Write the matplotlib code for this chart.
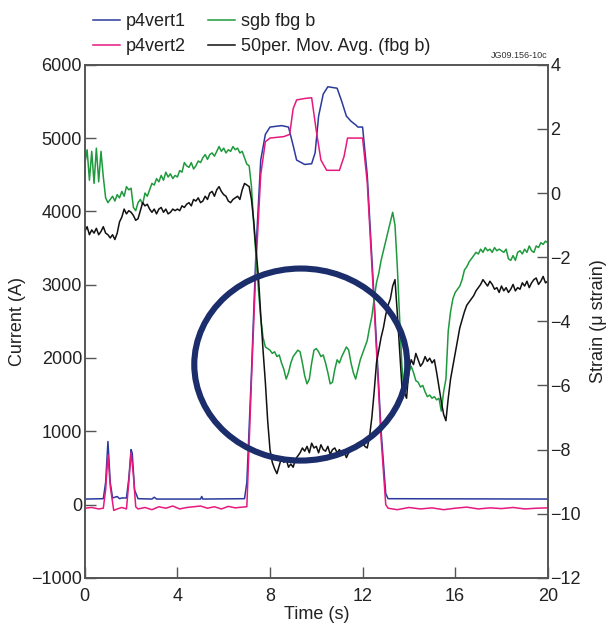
import numpy as np
import matplotlib.pyplot as plt
from matplotlib.patches import Ellipse

plt.rcParams['font.family'] = ['Liberation Sans', 'DejaVu Sans']

# p4vert1 current (A)
t_p1 = [0, 0.8, 0.9, 1.0, 1.1, 1.2, 1.4, 1.5, 1.6, 1.8, 1.9, 2.0, 2.05, 2.15, 2.3,
        2.9, 3.0, 3.1, 5.0, 5.05, 5.1, 6.9, 7.0, 7.2, 7.4, 7.6, 7.8, 8.0, 8.5, 8.8,
        9.0, 9.15, 9.5, 9.8, 9.95, 10.1, 10.3, 10.5, 10.9, 11.1, 11.3, 11.5,
        11.7, 11.8, 12.0, 12.2, 12.5, 12.8, 13.0, 13.1, 20]
i_p1 = [75, 80, 300, 860, 300, 90, 110, 80, 90, 90, 350, 750, 700, 200, 80,
        75, 100, 75, 75, 110, 75, 80, 300, 1800, 3500, 4700, 5050, 5150, 5170, 5150,
        4900, 4700, 4640, 4650, 4800, 5300, 5600, 5700, 5680, 5500, 5300, 5230,
        5180, 5150, 5150, 4500, 2800, 1000, 150, 80, 75]

# p4vert2 current (A)
t_p2 = [0, 0.3, 0.6, 0.8, 0.9, 1.0, 1.1, 1.25, 1.4, 1.6, 1.8, 1.9, 2.0, 2.1, 2.2,
        2.3, 2.6, 2.9, 3.2, 3.5, 3.8, 4.1, 4.4, 4.7, 5.0, 5.3, 5.6, 5.9, 6.2, 6.5,
        6.8, 7.0, 7.2, 7.4, 7.6, 7.8, 8.0, 8.6, 8.85, 9.0, 9.15, 9.5, 9.8, 10.0,
        10.2, 10.45, 11.0, 11.2, 11.35, 12.0, 12.2, 12.5, 12.8, 13.0, 13.1, 13.5,
        14.0, 14.5, 15.0, 15.5, 16.0, 16.5, 17.0, 17.5, 18.0, 18.5, 19.0, 19.5, 20]
i_p2 = [-50, -40, -60, -50, 200, 680, 250, -80, -60, -40, -60, 300, 710, 400, -30,
        -60, -40, -70, -30, -50, -20, -60, -40, -30, -20, -50, -30, -60, -25, -45,
        -35, -30, 1700, 3300, 4500, 4950, 5000, 5020, 5050, 5400, 5520, 5540, 5550, 5100,
        4700, 4560, 4560, 4750, 5000, 5000, 4400, 2700, 900, 0, -50, -70,
        -40, -60, -45, -70, -50, -35, -60, -45, -55, -40, -60, -50, -45]

# sgb fbg b strain, sampled every 0.1 s from 0 to 20 s
strain_fbg = [
    0.9, 1.35, 0.4, 1.3, 0.3, 1.4, 0.35, 1.3, 0.5, -0.15,
    -0.3, -0.2, -0.1, -0.25, -0.05, -0.15, 0.05, -0.1, 0.2, 0.1,
    0.15, -0.45, -0.55, -0.3, -0.2, -0.35, 0.0, -0.1, 0.1, 0.3,
    0.25, 0.45, 0.35, 0.55, 0.4, 0.65, 0.5, 0.6, 0.45, 0.55,
    0.5, 0.7, 0.65, 0.95, 0.85, 0.8, 0.95, 0.75, 0.85, 1.0,
    0.95, 1.1, 1.2, 1.05, 1.2, 1.25, 1.15, 1.3, 1.45, 1.3,
    1.4, 1.25, 1.35, 1.3, 1.45, 1.35, 1.4, 1.25, 1.3, 1.1,
    0.9, 0.85, 0.2, -1.0, -2.0, -3.0, -3.9, -4.5, -4.8, -4.85,
    -4.9, -5.0, -4.95, -5.1, -5.05, -5.3, -5.5, -5.8, -5.6, -5.3,
    -5.1, -5.0, -4.9, -4.95, -5.3, -5.7, -5.95, -5.8, -5.3, -4.9,
    -4.85, -4.95, -5.1, -5.05, -5.3, -5.6, -5.95, -5.9, -5.5, -5.2,
    -5.3, -5.1, -4.95, -4.8, -4.9, -5.3, -5.6, -5.8, -5.5, -5.2,
    -5.0, -4.8, -4.6, -4.2, -3.85, -3.3, -2.8, -2.5, -2.1, -1.8,
    -1.5, -1.2, -0.9, -0.6, -1.0, -2.3, -3.9, -5.4, -6.25, -6.0,
    -5.6, -5.4, -5.6, -5.85, -5.9, -6.05, -6.0, -6.2, -6.35, -6.3,
    -6.4, -6.35, -6.45, -6.4, -6.8, -6.2, -5.8, -4.3, -3.7, -3.3,
    -3.1, -3.0, -2.9, -2.7, -2.4, -2.3, -2.15, -2.05, -1.95, -1.85,
    -1.9, -1.75, -1.85, -1.7, -1.8, -1.75, -1.85, -1.7, -1.8, -1.75,
    -1.8, -1.85, -1.75, -2.05, -2.1, -1.95, -2.1, -1.85, -1.8, -1.9,
    -1.75, -1.85, -1.65, -1.8, -1.85, -1.65, -1.7, -1.55, -1.6, -1.5, -1.55]

# 50 period moving average of fbg b, every 0.1 s
strain_avg = [
    -1.2, -1.05, -1.3, -1.15, -1.25, -1.1, -1.3, -1.2, -1.05, -1.25,
    -1.3, -1.4, -1.3, -1.45, -1.25, -0.9, -0.75, -0.5, -0.65, -0.55,
    -0.6, -0.7, -0.85, -0.8, -0.55, -0.3, -0.4, -0.35, -0.5, -0.6,
    -0.5, -0.65, -0.5, -0.45, -0.6, -0.5, -0.65, -0.6, -0.5, -0.55,
    -0.5, -0.55, -0.4, -0.45, -0.35, -0.3, -0.4, -0.2, -0.25, -0.15,
    -0.3, -0.25, -0.1, -0.2, 0.0, 0.05, -0.1, 0.1, 0.2, 0.05,
    -0.05, -0.1, -0.25, -0.3, -0.2, -0.15, -0.1, -0.2, 0.1, 0.3,
    0.25, 0.2, -0.2, -0.9, -1.8, -2.6, -3.8, -4.9, -5.9, -7.1,
    -8.0, -8.4, -8.6, -8.75, -8.5, -8.25, -8.4, -8.3, -8.55, -8.45,
    -8.55, -8.3, -8.2, -8.1, -7.95, -8.05, -7.9, -8.1, -7.8, -7.95,
    -7.9, -8.1, -7.85, -8.0, -8.05, -7.9, -8.15, -8.0, -7.95, -8.1,
    -8.0, -8.15, -8.05, -8.25, -8.1, -8.0, -7.9, -7.95, -7.8, -7.85,
    -7.8, -7.9, -7.95, -7.6, -7.0, -6.2, -5.3, -4.9, -4.5, -4.2,
    -3.8, -3.5, -3.3, -2.9, -2.7, -3.75, -4.9, -6.05, -6.2, -6.4,
    -5.5, -5.2, -5.35, -5.0, -5.2, -5.4, -5.3, -5.1, -5.25, -5.15,
    -5.3, -5.2, -5.6, -6.05, -6.5, -6.9, -7.1, -6.4, -5.8, -5.4,
    -5.0, -4.6, -4.2, -3.95, -3.7, -3.5, -3.4, -3.3, -3.2, -3.05,
    -2.95, -2.85, -2.7, -2.8, -2.9, -2.75, -2.85, -3.0, -2.95, -3.1,
    -2.9, -3.05, -2.95, -3.1, -3.0, -2.85, -3.05, -2.95, -3.0, -2.8,
    -2.9, -2.75, -2.95, -2.8, -2.7, -2.65, -2.85, -2.75, -2.6, -2.8, -2.75]

t_fbg = np.arange(len(strain_fbg)) * 0.1

fig = plt.figure(figsize=(6.1, 6.35), dpi=100)
ax = fig.add_axes([0.139, 0.090, 0.759, 0.808])
ax2 = ax.twinx()

l1, = ax.plot(t_p1, i_p1, color='#2a3a9c', lw=1.1, label='p4vert1')
l2, = ax.plot(t_p2, i_p2, color='#e6197f', lw=1.1, label='p4vert2')
l3, = ax2.plot(t_fbg, strain_fbg, color='#1e9a3c', lw=1.1, label='sgb fbg b')
l4, = ax2.plot(t_fbg, strain_avg, color='#111111', lw=1.1,
               label='50per. Mov. Avg. (fbg b)')

# highlight circle
circ = Ellipse((9.33, 1910), 9.2, 2620, transform=ax.transData, fill=False,
               edgecolor='#1b2d6b', lw=4.4, zorder=10)
ax2.add_patch(circ)

ax.set_xlim(0, 20)
ax.set_ylim(-1000, 6000)
ax2.set_ylim(-12, 4)
ax.set_xticks([0, 4, 8, 12, 16, 20])
ax.set_yticks(range(-1000, 6001, 1000))
ax2.set_yticks(range(-12, 5, 2))
ax.set_yticklabels(['\u22121000'] + [str(v) for v in range(0, 6001, 1000)])
ax2.set_yticklabels(['\u2212%d' % -v if v < 0 else str(v) for v in range(-12, 5, 2)])

for a in (ax, ax2):
    for s in a.spines.values():
        s.set_color('#555555')
        s.set_linewidth(1.2)
ax.tick_params(axis='both', direction='in', length=8, width=1, color='#555555',
               labelsize=13, labelcolor='#222222', pad=2)
ax.tick_params(axis='x', pad=7)
ax2.tick_params(axis='y', direction='in', length=8, width=1, color='#555555',
                labelsize=13, labelcolor='#222222', pad=2)

ax.set_xlabel('Time (s)', fontsize=13, color='#222222', labelpad=1)
ax.set_ylabel('Current (A)', fontsize=13, color='#222222', labelpad=4)
ax2.set_ylabel('Strain (\u03bc strain)', fontsize=13, color='#222222', labelpad=6)

fig.text(0.898, 0.905, 'JG09.156-10c', fontsize=6.5, ha='right', va='bottom',
         color='#333333')

fig.legend(handles=[l1, l2, l3, l4], loc='upper left', bbox_to_anchor=(0.125, 1.005),
           ncol=2, frameon=False, fontsize=13, handlelength=1.5, handletextpad=0.35,
           columnspacing=1.2, labelspacing=0.45, labelcolor='#222222')

fig.savefig('out.png', dpi=100)
